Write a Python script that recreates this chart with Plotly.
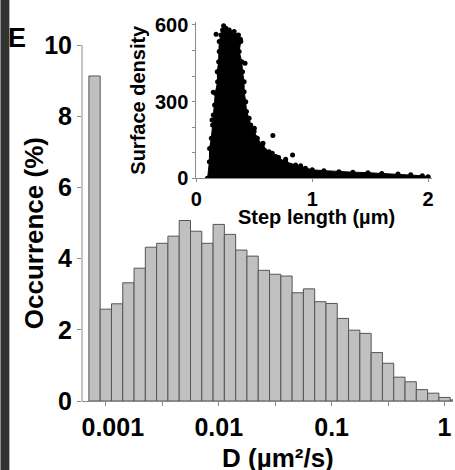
import plotly.graph_objects as go

# ---------------- data ----------------
# histogram of D: bin centres as log10(D) and occurrence (%)
bin_log10_D = [-3.1, -3.0, -2.9, -2.8, -2.7, -2.6, -2.5, -2.4, -2.3, -2.2, -2.1,
               -2.0, -1.9, -1.8, -1.7, -1.6, -1.5, -1.4, -1.3, -1.2, -1.1, -1.0,
               -0.9, -0.8, -0.7, -0.6, -0.5, -0.4, -0.3, -0.2, -0.1, 0.0, 0.1]
occurrence = [9.13, 2.58, 2.73, 3.32, 3.73, 4.32, 4.43, 4.63, 5.07, 4.77, 4.43,
              4.96, 4.68, 4.24, 4.07, 3.67, 3.56, 3.51, 3.04, 3.15, 2.79, 2.74,
              2.32, 1.99, 1.90, 1.36, 1.06, 0.67, 0.54, 0.32, 0.22, 0.10, 0.03]
x_tick_vals = [-3, -2.5, -2, -1.5, -1, -0.5, 0]
x_tick_text = ["\u00a0\u00a00.001", "", "0.01", "", "0.1", "", "1"]
y_tick_vals = [0, 2, 4, 6, 8, 10]

# inset: outline of the dense cloud of points (step length um, surface density)
cloud_step = [0.097, 0.112, 0.114, 0.129, 0.140, 0.146, 0.157, 0.163, 0.183, 0.180,
              0.192, 0.197, 0.197, 0.212, 0.226, 0.255, 0.283, 0.326, 0.363, 0.383,
              0.369, 0.392, 0.398, 0.412, 0.412, 0.426, 0.432, 0.455, 0.469, 0.498,
              0.526, 0.569, 0.627, 0.684, 0.770, 0.856, 0.941, 1.00, 1.10, 1.23,
              1.35, 1.48, 1.60, 1.74, 1.85, 1.95, 2.00, 2.00, 0.097]
cloud_density = [0, 65, 117, 157, 209, 248, 287, 333, 378, 417,
                 456, 496, 535, 561, 580, 587, 580, 574, 561, 535,
                 496, 456, 417, 378, 339, 300, 261, 235, 209, 183,
                 157, 130, 104, 85, 65, 52, 39, 33, 30, 26,
                 24, 22, 19, 17, 14, 10, 6, 0, 0]
# isolated points outside the dense cloud
outlier_step = [0.17, 0.235, 0.38, 0.42, 0.146, 0.135, 0.50, 0.66, 0.51, 0.575,
                0.655, 0.71, 0.77, 0.83, 0.90]
outlier_density = [564, 597, 544, 450, 337, 228, 196, 167, 160, 137,
                   98, 81, 75, 91, 49]
inset_y_tick_vals = [0, 100, 200, 300, 400, 500, 600]
inset_y_tick_text = ["0", "", "", "300", "", "", "600"]
inset_x_tick_vals = [0, 1, 2]

# ---------------- layout helpers ----------------
W, H = 455, 470
L, R, T, B = 82, 0, 20, 69
PW, PH = W - L - R, H - T - B


def fx(px):
    return (px - L) / PW


def fy(py):
    return (H - B - py) / PH


FONT = "Liberation Sans, Arial, sans-serif"
AX = "#8a8a8a"

fig = go.Figure()

fig.add_trace(go.Bar(
    x=bin_log10_D, y=occurrence, width=0.1,
    marker=dict(color="#c0c0c0", line=dict(color="#555555", width=1)),
    xaxis="x", yaxis="y", showlegend=False,
))

fig.add_trace(go.Scatter(
    x=cloud_step, y=cloud_density, mode="lines+markers",
    fill="toself", fillcolor="black",
    line=dict(color="black", width=1),
    marker=dict(color="black", size=5),
    xaxis="x2", yaxis="y2", showlegend=False,
))
fig.add_trace(go.Scatter(
    x=outlier_step, y=outlier_density, mode="markers",
    marker=dict(color="black", size=5),
    xaxis="x2", yaxis="y2", showlegend=False,
))

main_y_top = (H - B - T) / 35.6

fig.update_layout(
    width=W, height=H,
    margin=dict(l=L, r=R, t=T, b=B, pad=0),
    paper_bgcolor="white", plot_bgcolor="rgba(0,0,0,0)",
    font=dict(family=FONT, color="black"),
    bargap=0,
    xaxis=dict(
        domain=[0, 1], range=[-3.211, 0.075],
        tickvals=x_tick_vals, ticktext=x_tick_text,
        ticks="outside", ticklen=4, tickcolor=AX, tickwidth=1,
        showline=True, linecolor=AX, linewidth=1,
        showgrid=False, zeroline=False,
        tickfont=dict(size=25, weight="bold", family=FONT),
        anchor="y",
    ),
    yaxis=dict(
        domain=[0, 1], range=[0, main_y_top],
        tickvals=y_tick_vals,
        ticks="outside", ticklen=4, tickcolor=AX, tickwidth=1,
        showline=False, showgrid=False, zeroline=False,
        tickfont=dict(size=25, weight="bold", family=FONT),
        anchor="x",
    ),
    xaxis2=dict(
        domain=[fx(197), fx(433.5)], range=[0, 2.03],
        tickvals=inset_x_tick_vals,
        ticks="outside", ticklen=3, tickcolor=AX, tickwidth=1,
        showline=True, linecolor=AX, linewidth=1,
        showgrid=False, zeroline=False,
        tickfont=dict(size=20, weight="bold", family=FONT),
        anchor="y2",
    ),
    yaxis2=dict(
        domain=[fy(178.3), fy(22.4)], range=[0, 610],
        tickvals=inset_y_tick_vals, ticktext=inset_y_tick_text,
        ticks="outside", ticklen=3, tickcolor=AX, tickwidth=1,
        showline=True, linecolor=AX, linewidth=1,
        showgrid=False, zeroline=False,
        tickfont=dict(size=20, weight="bold", family=FONT),
        anchor="x2",
    ),
)

# main y axis line only from 0 to 10
fig.add_shape(type="line", xref="paper", yref="y", x0=0, x1=0, y0=0, y1=10,
              line=dict(color=AX, width=1))
# dark strip on the left border
fig.add_shape(type="rect", xref="paper", yref="paper",
              x0=fx(0), x1=fx(9), y0=fy(H), y1=fy(0),
              fillcolor="#333333", line=dict(width=0), layer="above")

ann = [
    dict(text="E", x=fx(17), y=fy(38.5), size=27, angle=0),
    dict(text="Occurrence (%)", x=fx(34), y=fy(233), size=26, angle=-90),
    dict(text="D (µm²/s)", x=fx(279), y=fy(458), size=26, angle=0),
    dict(text="Surface density", x=fx(138), y=fy(100), size=20, angle=-90),
    dict(text="Step length (µm)", x=fx(318), y=fy(217), size=20, angle=0),
]
for a in ann:
    fig.add_annotation(
        text=a["text"], x=a["x"], y=a["y"], xref="paper", yref="paper",
        xanchor="center", yanchor="middle", showarrow=False,
        textangle=a["angle"],
        font=dict(size=a["size"], weight="bold", family=FONT, color="black"),
    )

fig.write_html(
    "out.html",
    config={"displayModeBar": False, "staticPlot": True},
    post_script="document.body.style.margin='0px';document.body.style.overflow='hidden';",
)
